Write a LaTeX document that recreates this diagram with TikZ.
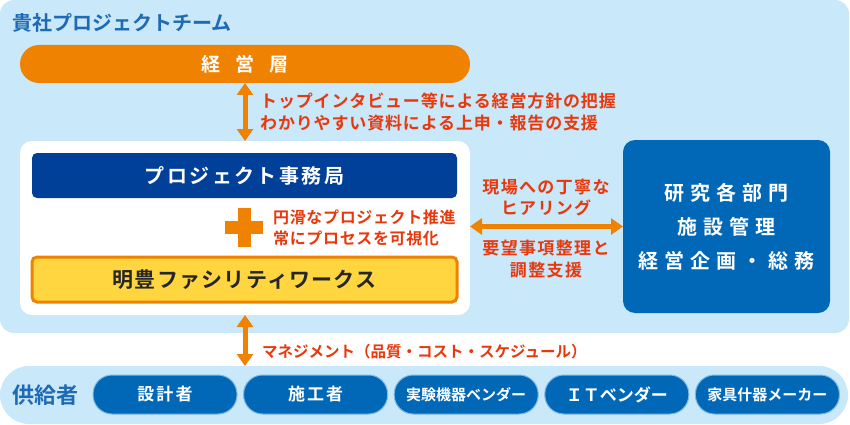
\documentclass[tikz,border=0pt]{standalone}
\usepackage{fontspec}
\setmainfont{Noto Sans CJK JP}[BoldFont=* Bold]
\usetikzlibrary{arrows.meta}
\definecolor{teambg}{HTML}{C9E8F9}
\definecolor{teamblue}{HTML}{1E6AB4}
\definecolor{keieiorange}{HTML}{EF8200}
\definecolor{notered}{HTML}{E8380D}
\definecolor{officeblue}{HTML}{004098}
\definecolor{clientblue}{HTML}{0068B7}
\definecolor{meihoyellow}{HTML}{FFD63F}
\definecolor{pilledge}{HTML}{7FB8E3}
\newcommand*\barwd {425pt}
\newcommand*\barht {45pt}
\newcommand*\pillwd{144pt}
\newcommand*\pillht{39pt}
\newcommand*\jpsize[2]{\bfseries\fontsize{#1}{#2}\selectfont}
\newcommand*\spaced[1]{\addfontfeature{LetterSpace=#1}}
\tikzset{
    panel/.style      = {draw=none, inner sep=0pt, outer sep=0pt},
    teampanel/.style  = {panel, fill=teambg, rounded corners=14pt},
    supplyband/.style = {panel, fill=teambg, rounded corners=29pt},
    corepanel/.style  = {panel, fill=white, rounded corners=12pt,
                         minimum width=450pt, minimum height=174pt},
    keieibar/.style   = {panel, fill=keieiorange, rounded corners=19pt,
                         minimum width=450pt, minimum height=38pt,
                         text=white, font={\jpsize{19}{22}\spaced{80}}},
    officebar/.style  = {panel, fill=officeblue, rounded corners=5pt,
                         minimum width=\barwd, minimum height=\barht,
                         text=white, font={\jpsize{20}{24}\spaced{12}}},
    meihobar/.style   = {panel, draw=keieiorange, line width=3pt,
                         fill=meihoyellow, rounded corners=5pt,
                         minimum width=\barwd, minimum height=\barht,
                         text=black!85, font={\jpsize{21}{24}\spaced{6}}},
    clientbox/.style  = {panel, fill=clientblue, rounded corners=12pt,
                         minimum width=207pt, minimum height=173pt,
                         text=white, align=center,
                         font={\jpsize{20}{34}\spaced{30}}},
    grouplabel/.style = {inner sep=0pt, text=teamblue, anchor=west},
    note/.style       = {inner sep=0pt, text=notered, align=left},
    pill/.style       = {draw=pilledge, line width=1pt, fill=clientblue,
                         rounded corners=19pt, inner sep=0pt,
                         minimum width=\pillwd, minimum height=\pillht,
                         text=white, font={\jpsize{17}{20}\spaced{12}}},
    tightpill/.style  = {pill, font={\jpsize{17}{20}}},
    narrowpill/.style = {pill, font={\jpsize{15}{20}}},
    dblarrow/.style   = {draw=keieiorange, line width=5pt,
                         {Triangle[width=16pt,length=12pt]}-{Triangle[width=16pt,length=12pt]}},
  }

\begin{document}
\begin{tikzpicture}[x=1pt,y=-1pt]
    \useasboundingbox (0,0) rectangle (850,425);

    % Background panels: project team and suppliers
    \node (team) [teampanel, minimum width=849pt, minimum height=333pt] at (424.5,166.5) {};
    \node (supply) [supplyband, minimum width=848pt, minimum height=58pt] at (424,395) {};
    \node (teamlabel) [grouplabel, font=\jpsize{20}{24}] at (12,23) {貴社プロジェクトチーム};
    \node (supplylabel) [grouplabel, font=\jpsize{22}{24}] at (12,395) {供給者};

    % Management layer, core panel and client departments
    \node (keiei) [keieibar] at (245,64) {経営層};
    \node (core) [corepanel] at (245,228) {};
    \node (office) [officebar] at (244.5,175.5) {プロジェクト事務局};
    \node (meiho) [meihobar] at (244.5,279.5) {明豊ファシリティワークス};
    \node (client) [clientbox] at (726.5,226.5) {研究各部門\\施設管理\\経営企画・総務};

    % Plus sign between the two bars
    \fill[keieiorange] (225,221) rectangle (263,234);
    \fill[keieiorange] (237.5,208) rectangle (250.5,247);

    % Connectors
    \draw[dblarrow] (keiei.south) -- (core.north);
    \draw[dblarrow] (core.south) -- (core.south |- supply.north);
    \draw[dblarrow] (core.east |- client.west) -- (client.west);

    % Notes beside the connectors
    \node (topnote) [note, anchor=west, font={\jpsize{17}{22}\spaced{5}}] at (260,112)
        {トップインタビュー等による経営方針の把握\\わかりやすい資料による上申・報告の支援};
    \node (plusnote) [note, anchor=west, font={\jpsize{16}{21}\spaced{4}}] at (273,227.5)
        {円滑なプロジェクト推進\\常にプロセスを可視化};
    \node (hearnote) [note, align=center, font={\jpsize{17}{21}\spaced{8}}] at (546,197.5)
        {現場への丁寧な\\ヒアリング};
    \node (adjnote) [note, align=center, font={\jpsize{17}{22}\spaced{8}}] at (546,259)
        {要望事項整理と\\調整支援};
    \node (mgmtnote) [note, anchor=west, font=\jpsize{15.5}{20}] at (262,352)
        {マネジメント（品質・コスト・スケジュール）};

    % Supplier pills
    \foreach \t/\s [count=\i from 0] in {設計者/pill, 施工者/pill,
            実験機器ベンダー/narrowpill, ＩＴベンダー/tightpill, 家具什器メーカー/narrowpill} {
        \node (sup\i) [\s] at ({165+150.6*\i},394.5) {\t};
    }
\end{tikzpicture}
\end{document}
